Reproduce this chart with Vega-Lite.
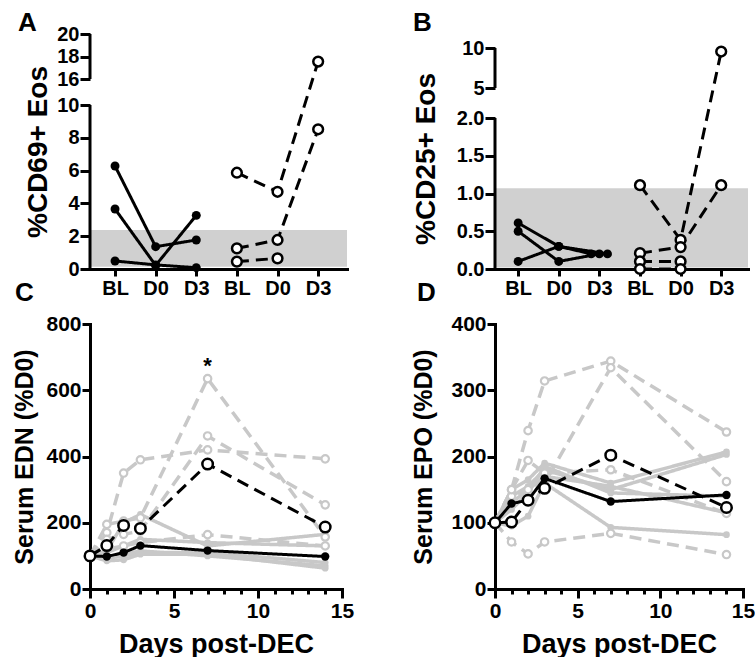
{
  "$schema": "https://vega.github.io/schema/vega-lite/v6.json",
  "padding": {"left": 12, "top": 10, "right": 0, "bottom": 0},
  "columns": 2,
  "bounds": "flush",
  "align": "none",
  "spacing": {"row": 55, "column": 148},
  "config": {
    "font": "Liberation Sans",
    "view": {"stroke": null},
    "axis": {
      "labelFont": "Liberation Sans", "labelFontWeight": "bold", "labelColor": "black",
      "titleFont": "Liberation Sans", "titleFontWeight": "bold", "titleColor": "black",
      "domainColor": "black", "domainWidth": 3, "tickColor": "black", "tickWidth": 3,
      "grid": false, "labelFlush": false, "labelOverlap": false, "domainCap": "square", "tickCount": 30
    },
    "title": {"font": "Liberation Sans", "fontWeight": "bold", "fontSize": 26, "color": "black", "anchor": "start", "frame": "group"}
  },
  "datasets": {
    "a": [
      {"subject": "a1", "cohort": "1", "time": "BL", "slot": 1, "value": 6.28},
      {"subject": "a1", "cohort": "1", "time": "D0", "slot": 2, "value": 1.36},
      {"subject": "a1", "cohort": "1", "time": "D3", "slot": 3, "value": 1.77},
      {"subject": "a2", "cohort": "1", "time": "BL", "slot": 1, "value": 3.66},
      {"subject": "a2", "cohort": "1", "time": "D0", "slot": 2, "value": 0.22},
      {"subject": "a2", "cohort": "1", "time": "D3", "slot": 3, "value": 3.27},
      {"subject": "a3", "cohort": "1", "time": "BL", "slot": 1, "value": 0.49},
      {"subject": "a3", "cohort": "1", "time": "D0", "slot": 2, "value": 0.25},
      {"subject": "a3", "cohort": "1", "time": "D3", "slot": 3, "value": 0.08},
      {"subject": "a4", "cohort": "2", "time": "BL", "slot": 4, "value": 5.87},
      {"subject": "a4", "cohort": "2", "time": "D0", "slot": 5, "value": 4.71},
      {"subject": "a4", "cohort": "2", "time": "D3", "slot": 6, "value": 17.55},
      {"subject": "a5", "cohort": "2", "time": "BL", "slot": 4, "value": 1.26},
      {"subject": "a5", "cohort": "2", "time": "D0", "slot": 5, "value": 1.77},
      {"subject": "a5", "cohort": "2", "time": "D3", "slot": 6, "value": 8.52},
      {"subject": "a6", "cohort": "2", "time": "BL", "slot": 4, "value": 0.45},
      {"subject": "a6", "cohort": "2", "time": "D0", "slot": 5, "value": 0.65}
    ],
    "b": [
      {"subject": "b1", "cohort": "1", "time": "BL", "slot": 1, "value": 0.61},
      {"subject": "b1", "cohort": "1", "time": "D0", "slot": 2, "value": 0.30},
      {"subject": "b1", "cohort": "1", "time": "D3", "slot": 2.8, "value": 0.20},
      {"subject": "b2", "cohort": "1", "time": "BL", "slot": 1, "value": 0.50},
      {"subject": "b2", "cohort": "1", "time": "D0", "slot": 2, "value": 0.10},
      {"subject": "b2", "cohort": "1", "time": "D3", "slot": 3, "value": 0.20},
      {"subject": "b3", "cohort": "1", "time": "BL", "slot": 1, "value": 0.10},
      {"subject": "b3", "cohort": "1", "time": "D0", "slot": 2, "value": 0.30},
      {"subject": "b3", "cohort": "1", "time": "D3", "slot": 3.2, "value": 0.20},
      {"subject": "b4", "cohort": "2", "time": "BL", "slot": 4, "value": 1.11},
      {"subject": "b4", "cohort": "2", "time": "D0", "slot": 5, "value": 0.385},
      {"subject": "b4", "cohort": "2", "time": "D3", "slot": 6, "value": 9.56},
      {"subject": "b5", "cohort": "2", "time": "BL", "slot": 4, "value": 0.21},
      {"subject": "b5", "cohort": "2", "time": "D0", "slot": 5, "value": 0.29},
      {"subject": "b5", "cohort": "2", "time": "D3", "slot": 6, "value": 1.11},
      {"subject": "b6", "cohort": "2", "time": "BL", "slot": 4, "value": 0.10},
      {"subject": "b6", "cohort": "2", "time": "D0", "slot": 5, "value": 0.10},
      {"subject": "b7", "cohort": "2", "time": "BL", "slot": 4, "value": 0.0},
      {"subject": "b7", "cohort": "2", "time": "D0", "slot": 5, "value": 0.0}
    ],
    "c": [
      {"series": "c11", "cohort": "1", "kind": "individual", "day": 0, "value": 100},
      {"series": "c11", "cohort": "1", "kind": "individual", "day": 1, "value": 115},
      {"series": "c11", "cohort": "1", "kind": "individual", "day": 2, "value": 200},
      {"series": "c11", "cohort": "1", "kind": "individual", "day": 3, "value": 225},
      {"series": "c11", "cohort": "1", "kind": "individual", "day": 7, "value": 130},
      {"series": "c11", "cohort": "1", "kind": "individual", "day": 14, "value": 165},
      {"series": "c12", "cohort": "1", "kind": "individual", "day": 0, "value": 100},
      {"series": "c12", "cohort": "1", "kind": "individual", "day": 1, "value": 110},
      {"series": "c12", "cohort": "1", "kind": "individual", "day": 2, "value": 130},
      {"series": "c12", "cohort": "1", "kind": "individual", "day": 3, "value": 150},
      {"series": "c12", "cohort": "1", "kind": "individual", "day": 7, "value": 140},
      {"series": "c12", "cohort": "1", "kind": "individual", "day": 14, "value": 130},
      {"series": "c13", "cohort": "1", "kind": "individual", "day": 0, "value": 100},
      {"series": "c13", "cohort": "1", "kind": "individual", "day": 1, "value": 92},
      {"series": "c13", "cohort": "1", "kind": "individual", "day": 2, "value": 100},
      {"series": "c13", "cohort": "1", "kind": "individual", "day": 3, "value": 110},
      {"series": "c13", "cohort": "1", "kind": "individual", "day": 7, "value": 110},
      {"series": "c13", "cohort": "1", "kind": "individual", "day": 14, "value": 80},
      {"series": "c14", "cohort": "1", "kind": "individual", "day": 0, "value": 100},
      {"series": "c14", "cohort": "1", "kind": "individual", "day": 1, "value": 95},
      {"series": "c14", "cohort": "1", "kind": "individual", "day": 2, "value": 105},
      {"series": "c14", "cohort": "1", "kind": "individual", "day": 3, "value": 115},
      {"series": "c14", "cohort": "1", "kind": "individual", "day": 7, "value": 100},
      {"series": "c14", "cohort": "1", "kind": "individual", "day": 14, "value": 70},
      {"series": "c15", "cohort": "1", "kind": "individual", "day": 0, "value": 100},
      {"series": "c15", "cohort": "1", "kind": "individual", "day": 1, "value": 85},
      {"series": "c15", "cohort": "1", "kind": "individual", "day": 2, "value": 88},
      {"series": "c15", "cohort": "1", "kind": "individual", "day": 3, "value": 105},
      {"series": "c15", "cohort": "1", "kind": "individual", "day": 7, "value": 105},
      {"series": "c15", "cohort": "1", "kind": "individual", "day": 14, "value": 63},
      {"series": "c21", "cohort": "2", "kind": "individual", "day": 0, "value": 100},
      {"series": "c21", "cohort": "2", "kind": "individual", "day": 1, "value": 195},
      {"series": "c21", "cohort": "2", "kind": "individual", "day": 2, "value": 205},
      {"series": "c21", "cohort": "2", "kind": "individual", "day": 3, "value": 215},
      {"series": "c21", "cohort": "2", "kind": "individual", "day": 7, "value": 635},
      {"series": "c21", "cohort": "2", "kind": "individual", "day": 14, "value": 157},
      {"series": "c22", "cohort": "2", "kind": "individual", "day": 0, "value": 100},
      {"series": "c22", "cohort": "2", "kind": "individual", "day": 1, "value": 170},
      {"series": "c22", "cohort": "2", "kind": "individual", "day": 2, "value": 350},
      {"series": "c22", "cohort": "2", "kind": "individual", "day": 3, "value": 390},
      {"series": "c22", "cohort": "2", "kind": "individual", "day": 7, "value": 420},
      {"series": "c22", "cohort": "2", "kind": "individual", "day": 14, "value": 393},
      {"series": "c23", "cohort": "2", "kind": "individual", "day": 0, "value": 100},
      {"series": "c23", "cohort": "2", "kind": "individual", "day": 1, "value": 150},
      {"series": "c23", "cohort": "2", "kind": "individual", "day": 2, "value": 165},
      {"series": "c23", "cohort": "2", "kind": "individual", "day": 3, "value": 175},
      {"series": "c23", "cohort": "2", "kind": "individual", "day": 7, "value": 462},
      {"series": "c23", "cohort": "2", "kind": "individual", "day": 14, "value": 254},
      {"series": "c24", "cohort": "2", "kind": "individual", "day": 0, "value": 100},
      {"series": "c24", "cohort": "2", "kind": "individual", "day": 1, "value": 120},
      {"series": "c24", "cohort": "2", "kind": "individual", "day": 2, "value": 130},
      {"series": "c24", "cohort": "2", "kind": "individual", "day": 3, "value": 140},
      {"series": "c24", "cohort": "2", "kind": "individual", "day": 7, "value": 164},
      {"series": "c24", "cohort": "2", "kind": "individual", "day": 14, "value": 130},
      {"series": "cM1", "cohort": "1", "kind": "mean", "day": 0, "value": 100},
      {"series": "cM1", "cohort": "1", "kind": "mean", "day": 1, "value": 98},
      {"series": "cM1", "cohort": "1", "kind": "mean", "day": 2, "value": 110},
      {"series": "cM1", "cohort": "1", "kind": "mean", "day": 3, "value": 131},
      {"series": "cM1", "cohort": "1", "kind": "mean", "day": 7, "value": 116},
      {"series": "cM1", "cohort": "1", "kind": "mean", "day": 14, "value": 98},
      {"series": "cM2", "cohort": "2", "kind": "mean", "day": 0, "value": 100},
      {"series": "cM2", "cohort": "2", "kind": "mean", "day": 1, "value": 131},
      {"series": "cM2", "cohort": "2", "kind": "mean", "day": 2, "value": 192},
      {"series": "cM2", "cohort": "2", "kind": "mean", "day": 3, "value": 183},
      {"series": "cM2", "cohort": "2", "kind": "mean", "day": 7, "value": 377},
      {"series": "cM2", "cohort": "2", "kind": "mean", "day": 14, "value": 187}
    ],
    "d": [
      {"series": "d11", "cohort": "1", "kind": "individual", "day": 0, "value": 100},
      {"series": "d11", "cohort": "1", "kind": "individual", "day": 1, "value": 150},
      {"series": "d11", "cohort": "1", "kind": "individual", "day": 2, "value": 165},
      {"series": "d11", "cohort": "1", "kind": "individual", "day": 3, "value": 190},
      {"series": "d11", "cohort": "1", "kind": "individual", "day": 7, "value": 160},
      {"series": "d11", "cohort": "1", "kind": "individual", "day": 14, "value": 207},
      {"series": "d12", "cohort": "1", "kind": "individual", "day": 0, "value": 100},
      {"series": "d12", "cohort": "1", "kind": "individual", "day": 1, "value": 140},
      {"series": "d12", "cohort": "1", "kind": "individual", "day": 2, "value": 155},
      {"series": "d12", "cohort": "1", "kind": "individual", "day": 3, "value": 180},
      {"series": "d12", "cohort": "1", "kind": "individual", "day": 7, "value": 150},
      {"series": "d12", "cohort": "1", "kind": "individual", "day": 14, "value": 203},
      {"series": "d13", "cohort": "1", "kind": "individual", "day": 0, "value": 100},
      {"series": "d13", "cohort": "1", "kind": "individual", "day": 1, "value": 95},
      {"series": "d13", "cohort": "1", "kind": "individual", "day": 2, "value": 110},
      {"series": "d13", "cohort": "1", "kind": "individual", "day": 3, "value": 160},
      {"series": "d13", "cohort": "1", "kind": "individual", "day": 7, "value": 93},
      {"series": "d13", "cohort": "1", "kind": "individual", "day": 14, "value": 82},
      {"series": "d14", "cohort": "1", "kind": "individual", "day": 0, "value": 100},
      {"series": "d14", "cohort": "1", "kind": "individual", "day": 1, "value": 120},
      {"series": "d14", "cohort": "1", "kind": "individual", "day": 2, "value": 145},
      {"series": "d14", "cohort": "1", "kind": "individual", "day": 3, "value": 185},
      {"series": "d14", "cohort": "1", "kind": "individual", "day": 7, "value": 145},
      {"series": "d14", "cohort": "1", "kind": "individual", "day": 14, "value": 140},
      {"series": "d15", "cohort": "1", "kind": "individual", "day": 0, "value": 100},
      {"series": "d15", "cohort": "1", "kind": "individual", "day": 1, "value": 130},
      {"series": "d15", "cohort": "1", "kind": "individual", "day": 2, "value": 150},
      {"series": "d15", "cohort": "1", "kind": "individual", "day": 3, "value": 170},
      {"series": "d15", "cohort": "1", "kind": "individual", "day": 7, "value": 155},
      {"series": "d15", "cohort": "1", "kind": "individual", "day": 14, "value": 115},
      {"series": "d21", "cohort": "2", "kind": "individual", "day": 0, "value": 100},
      {"series": "d21", "cohort": "2", "kind": "individual", "day": 1, "value": 150},
      {"series": "d21", "cohort": "2", "kind": "individual", "day": 2, "value": 239},
      {"series": "d21", "cohort": "2", "kind": "individual", "day": 3, "value": 314},
      {"series": "d21", "cohort": "2", "kind": "individual", "day": 7, "value": 344},
      {"series": "d21", "cohort": "2", "kind": "individual", "day": 14, "value": 237},
      {"series": "d22", "cohort": "2", "kind": "individual", "day": 0, "value": 100},
      {"series": "d22", "cohort": "2", "kind": "individual", "day": 1, "value": 140},
      {"series": "d22", "cohort": "2", "kind": "individual", "day": 2, "value": 150},
      {"series": "d22", "cohort": "2", "kind": "individual", "day": 3, "value": 160},
      {"series": "d22", "cohort": "2", "kind": "individual", "day": 7, "value": 334},
      {"series": "d22", "cohort": "2", "kind": "individual", "day": 14, "value": 162},
      {"series": "d23", "cohort": "2", "kind": "individual", "day": 0, "value": 100},
      {"series": "d23", "cohort": "2", "kind": "individual", "day": 1, "value": 71},
      {"series": "d23", "cohort": "2", "kind": "individual", "day": 2, "value": 53},
      {"series": "d23", "cohort": "2", "kind": "individual", "day": 3, "value": 71},
      {"series": "d23", "cohort": "2", "kind": "individual", "day": 7, "value": 84},
      {"series": "d23", "cohort": "2", "kind": "individual", "day": 14, "value": 52},
      {"series": "d24", "cohort": "2", "kind": "individual", "day": 0, "value": 100},
      {"series": "d24", "cohort": "2", "kind": "individual", "day": 1, "value": 150},
      {"series": "d24", "cohort": "2", "kind": "individual", "day": 2, "value": 194},
      {"series": "d24", "cohort": "2", "kind": "individual", "day": 3, "value": 175},
      {"series": "d24", "cohort": "2", "kind": "individual", "day": 7, "value": 180},
      {"series": "d24", "cohort": "2", "kind": "individual", "day": 14, "value": 114},
      {"series": "dM1", "cohort": "1", "kind": "mean", "day": 0, "value": 100},
      {"series": "dM1", "cohort": "1", "kind": "mean", "day": 1, "value": 129},
      {"series": "dM1", "cohort": "1", "kind": "mean", "day": 2, "value": 134},
      {"series": "dM1", "cohort": "1", "kind": "mean", "day": 3, "value": 167},
      {"series": "dM1", "cohort": "1", "kind": "mean", "day": 7, "value": 132},
      {"series": "dM1", "cohort": "1", "kind": "mean", "day": 14, "value": 142},
      {"series": "dM2", "cohort": "2", "kind": "mean", "day": 0, "value": 100},
      {"series": "dM2", "cohort": "2", "kind": "mean", "day": 1, "value": 101},
      {"series": "dM2", "cohort": "2", "kind": "mean", "day": 2, "value": 134},
      {"series": "dM2", "cohort": "2", "kind": "mean", "day": 3, "value": 152},
      {"series": "dM2", "cohort": "2", "kind": "mean", "day": 7, "value": 202},
      {"series": "dM2", "cohort": "2", "kind": "mean", "day": 14, "value": 123}
    ]
  },
  "concat": [
    {
      "title": {"text": "A", "dx": -72, "offset": -12},
      "width": 257, "height": 235,
      "data": {"name": "a"},
      "layer": [
        {
          "data": {"values": [{"lo": 0.14, "hi": 2.38}]},
          "mark": {"type": "rect", "color": "#d0d0d0"},
          "encoding": {
            "y": {"field": "lo", "type": "quantitative",
                  "scale": {"domain": [0, 10, 16, 20], "range": [235, 71, 45, 0], "nice": false, "zero": false},
                  "axis": {"values": [0, 2, 4, 6, 8, 10, 16, 18, 20], "format": "d", "tickCount": 30, "labelOverlap": false, "domain": false, "tickSize": 10, "labelFontSize": 20, "labelPadding": 1, "title": "%CD69+ Eos", "titleFontSize": 28, "titlePadding": 4}},
            "y2": {"field": "hi"}
          }
        },
        {
          "data": {"values": [{}]},
          "mark": {"type": "rule", "strokeWidth": 3, "color": "black"},
          "encoding": {"x": {"datum": 0.384, "type": "quantitative"}, "y": {"datum": 0, "type": "quantitative"}, "y2": {"datum": 10}}
        },
        {
          "data": {"values": [{}]},
          "mark": {"type": "rule", "strokeWidth": 3, "color": "black"},
          "encoding": {"x": {"datum": 0.384, "type": "quantitative"}, "y": {"datum": 16, "type": "quantitative"}, "y2": {"datum": 20}}
        },
        {
          "mark": {"type": "line", "strokeWidth": 3, "color": "black"},
          "encoding": {
            "x": {"field": "slot", "type": "quantitative",
                  "scale": {"domain": [0.384, 6.71], "nice": false, "zero": false},
                  "axis": {"values": [1, 2, 3, 4, 5, 6], "tickCount": 30, "labelExpr": "['BL','D0','D3','BL','D0','D3'][datum.value - 1]", "labelOverlap": false, "tickSize": 7, "labelFontSize": 20, "labelPadding": 2, "title": null}},
            "y": {"field": "value", "type": "quantitative"},
            "detail": {"field": "subject"},
            "strokeDash": {"field": "cohort", "type": "nominal", "scale": {"domain": ["1", "2"], "range": [[1, 0], [12, 7]]}, "legend": null}
          }
        },
        {
          "transform": [{"filter": "datum.cohort === '1'"}],
          "mark": {"type": "circle", "color": "black", "size": 80, "opacity": 1},
          "encoding": {"x": {"field": "slot", "type": "quantitative"}, "y": {"field": "value", "type": "quantitative"}}
        },
        {
          "transform": [{"filter": "datum.cohort === '2'"}],
          "mark": {"type": "circle", "fill": "white", "stroke": "black", "strokeWidth": 2.5, "size": 95, "opacity": 1},
          "encoding": {"x": {"field": "slot", "type": "quantitative"}, "y": {"field": "value", "type": "quantitative"}}
        }
      ]
    },
    {
      "title": {"text": "B", "dx": -82, "offset": -2},
      "width": 253, "height": 235,
      "data": {"name": "b"},
      "layer": [
        {
          "data": {"values": [{"lo": 0.02, "hi": 1.07}]},
          "mark": {"type": "rect", "color": "#d0d0d0"},
          "encoding": {
            "y": {"field": "lo", "type": "quantitative",
                  "scale": {"domain": [0, 2, 5, 10], "range": [235, 84, 54, 14], "nice": false, "zero": false},
                  "axis": {"values": [0, 0.5, 1, 1.5, 2, 5, 10], "tickCount": 30, "labelOverlap": false, "labelExpr": "datum.value <= 2 ? format(datum.value, '.1f') : format(datum.value, 'd')", "domain": false, "tickSize": 10, "labelFontSize": 20, "labelPadding": 1, "title": "%CD25+ Eos", "titleFontSize": 28, "titlePadding": 16}},
            "y2": {"field": "hi"}
          }
        },
        {
          "data": {"values": [{}]},
          "mark": {"type": "rule", "strokeWidth": 3, "color": "black"},
          "encoding": {"x": {"datum": 0.43, "type": "quantitative"}, "y": {"datum": 0, "type": "quantitative"}, "y2": {"datum": 2}}
        },
        {
          "data": {"values": [{}]},
          "mark": {"type": "rule", "strokeWidth": 3, "color": "black"},
          "encoding": {"x": {"datum": 0.43, "type": "quantitative"}, "y": {"datum": 5, "type": "quantitative"}, "y2": {"datum": 10}}
        },
        {
          "mark": {"type": "line", "strokeWidth": 3, "color": "black"},
          "encoding": {
            "x": {"field": "slot", "type": "quantitative",
                  "scale": {"domain": [0.43, 6.66], "nice": false, "zero": false},
                  "axis": {"values": [1, 2, 3, 4, 5, 6], "tickCount": 30, "labelExpr": "['BL','D0','D3','BL','D0','D3'][datum.value - 1]", "labelOverlap": false, "tickSize": 7, "labelFontSize": 20, "labelPadding": 2, "title": null}},
            "y": {"field": "value", "type": "quantitative"},
            "detail": {"field": "subject"},
            "strokeDash": {"field": "cohort", "type": "nominal", "scale": {"domain": ["1", "2"], "range": [[1, 0], [12, 7]]}, "legend": null}
          }
        },
        {
          "transform": [{"filter": "datum.cohort === '1'"}],
          "mark": {"type": "circle", "color": "black", "size": 80, "opacity": 1},
          "encoding": {"x": {"field": "slot", "type": "quantitative"}, "y": {"field": "value", "type": "quantitative"}}
        },
        {
          "transform": [{"filter": "datum.cohort === '2'"}],
          "mark": {"type": "circle", "fill": "white", "stroke": "black", "strokeWidth": 2.5, "size": 95, "opacity": 1},
          "encoding": {"x": {"field": "slot", "type": "quantitative"}, "y": {"field": "value", "type": "quantitative"}}
        }
      ]
    },
    {
      "title": {"text": "C", "dx": -75, "offset": 7},
      "width": 252, "height": 265,
      "data": {"name": "c"},
      "encoding": {
        "x": {"field": "day", "type": "quantitative",
              "scale": {"domain": [0, 15], "nice": false, "zero": false},
              "axis": {"values": [0, 1, 2, 3, 4, 5, 6, 7, 8, 9, 10, 11, 12, 13, 14, 15], "format": "d", "tickCount": 30, "labelOverlap": false, "labelExpr": "datum.value % 5 === 0 ? datum.label : ''", "tickSize": {"condition": {"test": "datum.value % 5 === 0", "value": 9}, "value": 5}, "labelFontSize": 21, "labelPadding": 2, "title": "Days post-DEC", "titleFontSize": 27, "titlePadding": 10}},
        "y": {"field": "value", "type": "quantitative",
              "scale": {"domain": [0, 800], "nice": false},
              "axis": {"values": [0, 200, 400, 600, 800], "format": "d", "tickCount": 30, "labelOverlap": false, "tickSize": 8, "labelFontSize": 21, "labelPadding": 1, "title": "Serum EDN (%D0)", "titleFontSize": 25, "titlePadding": 8}}
      },
      "layer": [
        {
          "transform": [{"filter": "datum.kind === 'individual'"}],
          "mark": {"type": "line", "strokeWidth": 3.5, "color": "#c8c8c8"},
          "encoding": {"detail": {"field": "series"},
            "strokeDash": {"field": "cohort", "type": "nominal", "scale": {"domain": ["1", "2"], "range": [[1, 0], [13, 7]]}, "legend": null}}
        },
        {
          "transform": [{"filter": "datum.kind === 'individual' && datum.cohort === '1'"}],
          "mark": {"type": "circle", "color": "#c8c8c8", "size": 45, "opacity": 1}
        },
        {
          "transform": [{"filter": "datum.kind === 'individual' && datum.cohort === '2'"}],
          "mark": {"type": "circle", "fill": "white", "stroke": "#c8c8c8", "strokeWidth": 2.2, "size": 55, "opacity": 1}
        },
        {
          "transform": [{"filter": "datum.kind === 'mean'"}],
          "mark": {"type": "line", "strokeWidth": 3, "color": "black"},
          "encoding": {"detail": {"field": "series"},
            "strokeDash": {"field": "cohort", "type": "nominal", "legend": null}}
        },
        {
          "transform": [{"filter": "datum.kind === 'mean' && datum.cohort === '1'"}],
          "mark": {"type": "circle", "color": "black", "size": 70, "opacity": 1}
        },
        {
          "transform": [{"filter": "datum.kind === 'mean' && datum.cohort === '2'"}],
          "mark": {"type": "circle", "fill": "white", "stroke": "black", "strokeWidth": 2.5, "size": 110, "opacity": 1}
        },
        {
          "data": {"values": [{"day": 7, "value": 672, "note": "*"}]},
          "mark": {"type": "text", "fontSize": 22, "fontWeight": "bold", "color": "black", "baseline": "middle", "font": "Liberation Sans"},
          "encoding": {"text": {"field": "note"}}
        }
      ]
    },
    {
      "title": {"text": "D", "dx": -78, "offset": 7},
      "width": 248, "height": 265,
      "data": {"name": "d"},
      "encoding": {
        "x": {"field": "day", "type": "quantitative",
              "scale": {"domain": [0, 15], "nice": false, "zero": false},
              "axis": {"values": [0, 1, 2, 3, 4, 5, 6, 7, 8, 9, 10, 11, 12, 13, 14, 15], "format": "d", "tickCount": 30, "labelOverlap": false, "labelExpr": "datum.value % 5 === 0 ? datum.label : ''", "tickSize": {"condition": {"test": "datum.value % 5 === 0", "value": 9}, "value": 5}, "labelFontSize": 21, "labelPadding": 2, "title": "Days post-DEC", "titleFontSize": 27, "titlePadding": 10}},
        "y": {"field": "value", "type": "quantitative",
              "scale": {"domain": [0, 400], "nice": false},
              "axis": {"values": [0, 100, 200, 300, 400], "format": "d", "tickCount": 30, "labelOverlap": false, "tickSize": 8, "labelFontSize": 21, "labelPadding": 1, "title": "Serum EPO (%D0)", "titleFontSize": 25, "titlePadding": 14}}
      },
      "layer": [
        {
          "transform": [{"filter": "datum.kind === 'individual'"}],
          "mark": {"type": "line", "strokeWidth": 3.5, "color": "#c8c8c8"},
          "encoding": {"detail": {"field": "series"},
            "strokeDash": {"field": "cohort", "type": "nominal", "scale": {"domain": ["1", "2"], "range": [[1, 0], [13, 7]]}, "legend": null}}
        },
        {
          "transform": [{"filter": "datum.kind === 'individual' && datum.cohort === '1'"}],
          "mark": {"type": "circle", "color": "#c8c8c8", "size": 45, "opacity": 1}
        },
        {
          "transform": [{"filter": "datum.kind === 'individual' && datum.cohort === '2'"}],
          "mark": {"type": "circle", "fill": "white", "stroke": "#c8c8c8", "strokeWidth": 2.2, "size": 55, "opacity": 1}
        },
        {
          "transform": [{"filter": "datum.kind === 'mean'"}],
          "mark": {"type": "line", "strokeWidth": 3, "color": "black"},
          "encoding": {"detail": {"field": "series"},
            "strokeDash": {"field": "cohort", "type": "nominal", "legend": null}}
        },
        {
          "transform": [{"filter": "datum.kind === 'mean' && datum.cohort === '1'"}],
          "mark": {"type": "circle", "color": "black", "size": 70, "opacity": 1}
        },
        {
          "transform": [{"filter": "datum.kind === 'mean' && datum.cohort === '2'"}],
          "mark": {"type": "circle", "fill": "white", "stroke": "black", "strokeWidth": 2.5, "size": 110, "opacity": 1}
        }
      ]
    }
  ]
}
